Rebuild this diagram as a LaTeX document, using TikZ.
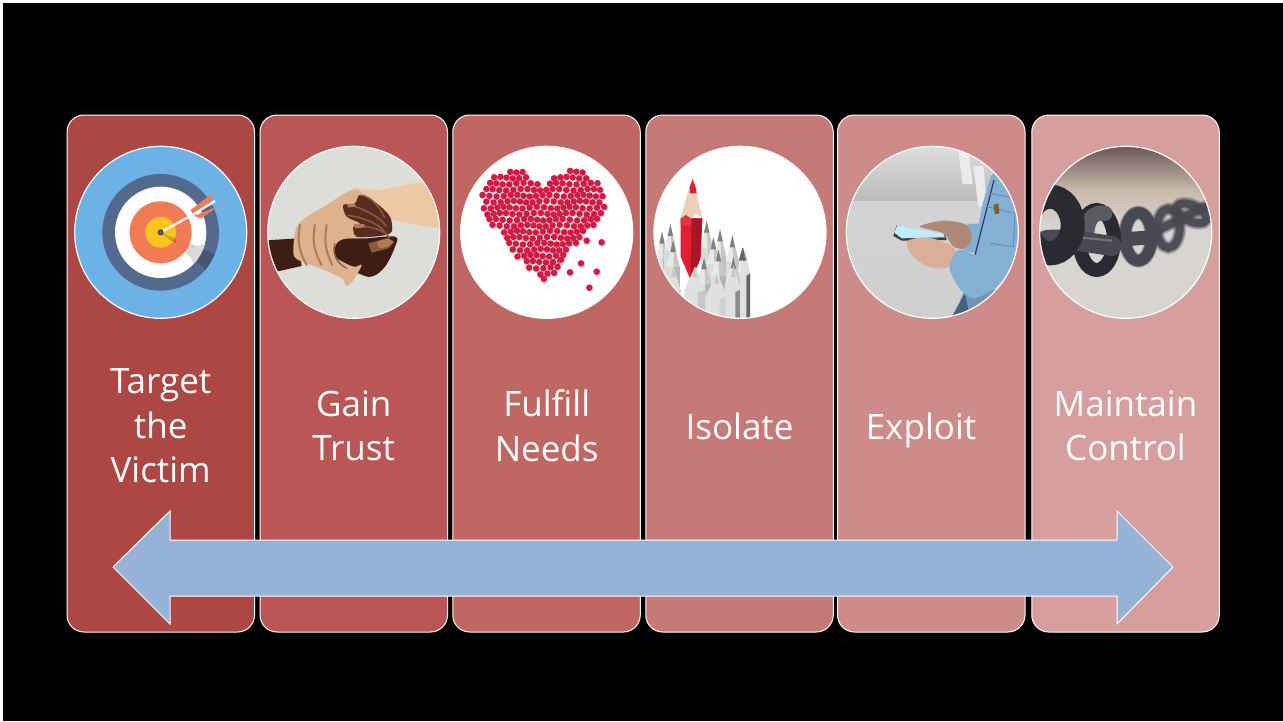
\documentclass[tikz,border=0pt]{standalone}
\usepackage{fontspec}
\setmainfont{Open Sans}
\definecolor{cardA}{RGB}{172,71,68}
\definecolor{cardB}{RGB}{186,86,85}
\definecolor{cardC}{RGB}{192,103,100}
\definecolor{cardD}{RGB}{198,122,120}
\definecolor{cardE}{RGB}{205,139,138}
\definecolor{cardF}{RGB}{215,158,158}
\definecolor{arrowblue}{RGB}{149,179,215}
\definecolor{tblue}{RGB}{108,178,230}
\definecolor{tdark}{RGB}{82,106,142}
\definecolor{torange}{RGB}{240,123,84}
\definecolor{tyellow}{RGB}{255,197,30}
\definecolor{handbg}{RGB}{221,222,217}
\definecolor{skinA}{RGB}{222,178,140}
\definecolor{skinL}{RGB}{236,200,165}
\definecolor{skinB}{RGB}{178,122,88}
\definecolor{skinC}{RGB}{130,85,60}
\definecolor{brownA}{RGB}{88,44,30}
\definecolor{brownB}{RGB}{62,30,20}
\definecolor{brownC}{RGB}{140,88,62}
\definecolor{heartred}{RGB}{212,26,68}
\definecolor{pencilred}{RGB}{226,30,50}
\definecolor{denim}{RGB}{132,176,210}
\definecolor{denimd}{RGB}{100,142,178}
\definecolor{handup}{RGB}{176,136,120}
\definecolor{handlo}{RGB}{218,174,152}
\definecolor{chainc}{RGB}{72,72,82}
\definecolor{chaind}{RGB}{42,42,50}
\definecolor{chtop}{RGB}{104,84,84}
\definecolor{chmid}{RGB}{200,186,170}
\definecolor{chlow}{RGB}{216,213,208}
\tikzset{
  cardbox/.style={draw=white,line width=1pt,rounded corners=17pt,minimum width=187.5pt,minimum height=517pt,inner sep=0pt,outer sep=0pt},
  photo/.style={circle,draw=white,line width=1.2pt,minimum size=172pt,inner sep=0pt,outer sep=0pt},
  lbl/.style={text=white,align=center,font=\fontsize{35}{44.5}\selectfont,inner sep=0pt},
  zoomA/.style={x=.33333pt,y=-.33333pt,shift={(60pt,-110pt)}},
  zoomB/.style={x=.33333pt,y=-.33333pt,shift={(450pt,-110pt)}},
  zoomC/.style={x=.33333pt,y=-.33333pt,shift={(830pt,-110pt)}},
}
\begin{document}
\begin{tikzpicture}[x=1pt,y=-1pt]
\useasboundingbox (0,0) rectangle (1283,721);
\fill[white] (0,0) rectangle (1283,721);
\fill[black] (3,3) rectangle (1283,721);
% cards
\node[cardbox,fill=cardA] (c1) at (160.75,373.5) {};
\node[cardbox,fill=cardB] (c2) at (353.75,373.5) {};
\node[cardbox,fill=cardC] (c3) at (546.5,373.5) {};
\node[cardbox,fill=cardD] (c4) at (739.5,373.5) {};
\node[cardbox,fill=cardE] (c5) at (931.25,373.5) {};
\node[cardbox,fill=cardF] (c6) at (1125.5,373.5) {};
% picture 1: target
\begin{scope}[zoomA]
\fill[tblue] (302,367) circle (258);
\fill[tdark] (302,367) circle (175);
\fill[white] (302,367) circle (137);
\begin{scope}
\clip (302,367) circle (175);
\fill[black,opacity=.18] (302,367) -- (345,380) -- (480,440) -- (440,480) -- cycle;
\end{scope}
\begin{scope}
\clip (302,367) circle (137);
\fill[gray!30] (380,420) -- (425,405) -- (440,400) -- (440,440) -- (400,460) -- cycle;
\end{scope}
\fill[torange] (302,367) circle (93);
\fill[tyellow] (302,367) circle (46);
\fill[black,opacity=.2] (302,367) -- (345,385) -- (350,400) -- (330,390) -- cycle;
\fill[torange] (392,300) -- (460,248) -- (450,277) -- (402,318) -- cycle;
\fill[torange] (402,318) -- (485,284) -- (462,298) -- (425,325) -- cycle;
\draw[white,line width=2.2pt] (300,368) -- (395,316) -- (465,273);
\fill[tdark!60!black] (302,367) circle (9);
\fill[torange!70!black] (302,367) circle (5);
\end{scope}
% picture 2: hands
\begin{scope}[zoomA]
\fill[handbg] (881,367) circle (258);
\begin{scope}
\clip (881,367) circle (258);
\fill[brownB] (600,392) -- (715,385) -- (725,468) -- (640,487) -- cycle;
\fill[skinL] plot[smooth cycle,tension=.5] coordinates {(880,238) (960,240) (1100,218) (1150,280) (1140,350) (1040,338) (960,320) (880,300)};
\fill[brownB] plot[smooth cycle,tension=.6] coordinates {(830,390) (920,385) (1005,380) (1005,410) (975,470) (935,500) (895,490) (850,470) (825,430)};
\fill[skinA] plot[smooth cycle,tension=.5] coordinates {(700,425) (715,342) (800,285) (880,238) (920,265) (930,330) (920,380) (860,385) (830,400) (825,440) (880,470) (905,465) (880,510) (860,528) (845,505) (780,475) (715,450)};
\foreach \a/\b in {720/745,765/790,800/822}{
  \draw[skinB,line width=2pt,line cap=round] (\a,345) .. controls (\a-8,390) and (\a-5,420) .. (\b-5,465);
}
\draw[skinC,line width=1.2pt] (825,400) .. controls (815,430) and (830,460) .. (860,475);
\fill[brownA] plot[smooth cycle,tension=.5] coordinates {(900,255) (950,280) (990,320) (995,365) (960,378) (890,380) (880,350) (900,340) (860,320) (850,285) (885,280)};
\foreach \p/\q/\r/\s in {900/262/985/330,858/290/990/358,860/322/985/375,885/352/1000/392}{
  \draw[brownC,line width=1.6pt,line cap=round] (\p+3,\q-6) .. controls (\p+35,\q-3) and (\r-25,\s-36) .. (\r-12,\s-9);
}
\fill[skinB] (862,282) -- (885,282) -- (888,290) -- (865,292) -- cycle;
\fill[skinB] (880,342) -- (912,342) -- (915,352) -- (885,355) -- cycle;
\fill[brownC] (925,400) -- (980,385) -- (1003,395) -- (985,415) -- (935,428) -- cycle;
\fill[skinB] (950,395) -- (985,385) -- (1000,395) -- (985,410) -- (958,415) -- cycle;
\end{scope}
\end{scope}
% picture 3: heart
\begin{scope}[zoomB]
\fill[white] (290,367) circle (258);
\foreach \r in {0,...,19}{
  \pgfmathsetmacro\yy{185+\r*18}
  \foreach \c in {0,...,19}{
    \pgfmathsetmacro\xx{100+\c*20+mod(\r,2)*10+2.5*sin(\r*67+\c*41)}
    \pgfmathsetmacro\yj{\yy+2.5*cos(\r*53+\c*71)}
    \pgfmathsetmacro\da{((\xx-190)/100)^2+((\yj-275)/100)^2}
    \pgfmathsetmacro\db{((\xx-368)/100)^2+((\yj-275)/100)^2}
    \pgfmathsetmacro\lb{92+(\yj-275)*.76-18*sin(min(180,max(0,.72*(\yj-275))))}
    \pgfmathsetmacro\rb{465-(\yj-290)*.766}
    \pgfmathtruncatemacro\keep{(\da<.9025||\db<.9025||(\yj>=275&&\xx>\lb&&\xx<\rb))?1:0}
    \ifnum\keep=1
      \fill[black!16] (\xx+2,\yj+3) circle (10.6);
      \fill[heartred] (\xx,\yj) circle (9.8);
    \fi
  }
}
\foreach \x/\y in {455/397,410/392,393/460,360/487,440/485,418/533,333/449}{
  \fill[black!16] (\x+2,\y+3) circle (10.6);
  \fill[heartred] (\x,\y) circle (9.8);
}
\end{scope}
% picture 4: pencils
\begin{scope}[zoomB]
\fill[white] (870,367) circle (258);
\begin{scope}
\clip (870,367) circle (258);
\foreach \x/\t/\w/\g in {636/365/18/25,661/342/18/22,770/332/18/22,810/358/18/25,847/376/20/22,669/390/20/28,790/382/20/28,880/414/20/45,805/418/22/30,762/442/22/30,850/440/24/30}{
  \fill[black!14] (\x-\w,\t+78) -- (\x+\w,\t+78) -- (\x+\w,640) -- (\x-\w,640) -- cycle;
  \fill[black!\g] (\x+4,\t+78) -- (\x+\w,\t+78) -- (\x+\w,640) -- (\x+4,640) -- cycle;
  \fill[black!9] (\x,\t) -- (\x+\w,\t+80) -- (\x-\w,\t+80) -- cycle;
  \fill[black!22] (\x,\t) -- (\x+\w,\t+80) -- (\x+3,\t+80) -- cycle;
  \fill[black!50] (\x,\t) -- (\x+8,\t+36) -- (\x-8,\t+36) -- cycle;
}
\fill[pencilred] (692,325) -- (757,325) -- (752,445) -- (722,510) -- (692,440) -- cycle;
\fill[pencilred!75!black] (725,325) -- (757,325) -- (750,450) -- (722,510) -- cycle;
\fill[pencilred!90!white] (692,325) -- (708,314) -- (725,325) -- (722,345) -- (692,345) -- cycle;
\fill[skinA!60!white] (692,325) -- (718,230) -- (735,230) -- (757,325) -- (738,312) -- (725,325) -- (708,314) -- cycle;
\fill[pencilred] (719,232) -- (728,207) -- (737,232) -- (740,250) -- (720,250) -- cycle;
\foreach \x/\t/\w/\g in {735/470/32/22,670/470/22/25,800/490/34/18,850/468/24/45,885/420/15/60}{
  \fill[black!12] (\x,\t) -- (\x+\w,\t+70) -- (\x+\w,640) -- (\x-\w,640) -- (\x-\w,\t+70) -- cycle;
  \fill[black!\g] (\x+\w*.25,\t+78) -- (\x+\w,\t+70) -- (\x+\w,640) -- (\x+\w*.25,640) -- cycle;
  \fill[black!22] (\x,\t) -- (\x+7,\t+32) -- (\x-7,\t+32) -- cycle;
}
\fill[black!60] (878,412) -- (888,452) -- (866,452) -- cycle;
\end{scope}
\end{scope}
% picture 5: phone
\begin{scope}[zoomC]
\begin{scope}
\clip (307,367) circle (258);
\fill[top color=black!13,bottom color=black!27] (40,105) rectangle (580,275);
\fill[top color=black!17,bottom color=black!19] (40,275) rectangle (580,630);
\fill[black!8] (385,125) -- (415,125) -- (428,222) -- (398,222) -- cycle;
\fill[black!8] (430,168) -- (460,168) -- (472,290) -- (445,290) -- cycle;
\fill[denim] plot[smooth cycle,tension=.4] coordinates {(490,190) (570,250) (580,470) (540,500) (440,440) (450,320)};
\fill[denim!85!black] (360,640) -- (400,550) -- (560,530) -- (560,640) -- cycle;
\fill[denimd!70!black] (360,630) -- (405,550) -- (415,600) -- (385,630) -- cycle;
\fill[denim] (413,342) -- (450,340) -- (445,430) -- (400,425) -- cycle;
\draw[blue!40!black!80,line width=1.2pt] (492,210) -- (435,435);
\draw[denimd,line width=1pt] (470,290) -- (555,310) -- (550,410) -- (480,400);
\draw[denimd,line width=1pt] (478,250) -- (540,262);
\fill[brown!70!black] (490,285) -- (505,280) -- (508,310) -- (495,312) -- cycle;
\fill[handup] plot[smooth cycle,tension=.5] coordinates {(270,350) (340,332) (410,345) (425,385) (405,415) (370,410) (340,370)};
\fill[black!75] (190,378) -- (200,345) -- (345,375) -- (350,390) -- (215,392) -- cycle;
\fill[blue!30!cyan!25!white] (193,368) -- (202,345) -- (340,372) -- (345,382) -- (215,385) -- cycle;
\fill[handlo] plot[smooth cycle,tension=.5] coordinates {(230,395) (290,382) (350,400) (378,425) (355,470) (300,472) (250,440)};
\fill[denim] plot[smooth cycle,tension=.5] coordinates {(385,420) (420,430) (535,470) (500,530) (430,565) (385,530) (358,470)};
\end{scope}
\end{scope}
% picture 6: chain
\begin{scope}[zoomC]
\begin{scope}
\clip (887,367) circle (258);
\fill[top color=chtop,bottom color=chmid] (620,105) rectangle (1150,240);
\fill[top color=chmid,bottom color=chlow] (620,240) rectangle (1150,350);
\fill[chlow] (620,350) rectangle (1150,630);
% far blurred links
\foreach \w/\o in {13/.25,11/.35,8/.9}{
  \draw[chainc,opacity=\o,line width=\w pt,rotate around={-25:(1085,310)}] (1085,310) ellipse (48 and 24);
  \draw[chainc,opacity=\o,line width=\w pt] (1015,355) ellipse (34 and 58);
  \draw[chainc,opacity=\o,line width=\w pt,line cap=round] (985,360) -- (1125,290);
}
\foreach \w/\o in {14/.3,12.5/.5,11/1}{
  \draw[chainc,opacity=\o,line width=\w pt] (925,380) ellipse (40 and 72);
}
\draw[chainc,line width=14pt,line cap=round] (850,390) -- (965,382);
\draw[chaind,line width=14pt] (800,390) ellipse (52 and 90);
\draw[chainc!90!white,line width=15pt,line cap=round] (770,385) .. controls (770,325) and (790,305) .. (825,310);
\draw[chainc,line width=20pt,line cap=round] (650,390) .. controls (700,385) and (760,395) .. (845,408);
\draw[black!55,line width=2pt,line cap=round] (705,378) -- (845,392);
\draw[chaind,line width=24pt] (660,345) ellipse (68 and 85);
\end{scope}
\end{scope}
% circles
\node[photo] (p1) at (160.7,232.3) {};
\node[photo] (p2) at (353.7,232.3) {};
\node[photo] (p3) at (546.7,232.3) {};
\node[photo] (p4) at (740,232.3) {};
\node[photo] (p5) at (932.3,232.3) {};
\node[photo] (p6) at (1125.7,232.3) {};
% labels
\node[lbl] (t1) at (160.7,426) {Target\\the\\Victim};
\node[lbl] (t2) at (353.7,426) {Gain\\Trust};
\node[lbl] (t3) at (546.7,426) {Fulfill\\Needs};
\node[lbl,anchor=base] (t4) at (739.5,439) {Isolate};
\node[lbl,anchor=base] (t5) at (921,439) {Exploit};
\node[lbl] (t6) at (1125.5,426) {Maintain\\Control};
% arrow
\draw[white,line width=1pt,fill=arrowblue,line join=miter] (113,567) -- (170,511) -- (170,540) -- (1117,540) -- (1117,511) -- (1173,567) -- (1117,624) -- (1117,596) -- (170,596) -- (170,624) -- cycle;
\end{tikzpicture}
\end{document}
